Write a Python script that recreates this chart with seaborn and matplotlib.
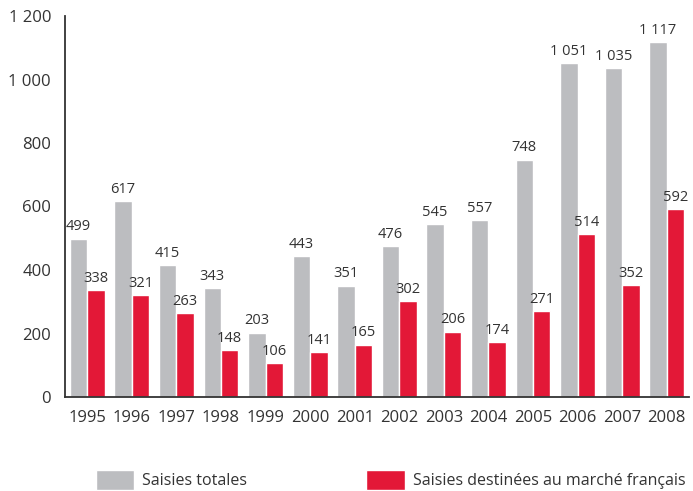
import matplotlib
matplotlib.use("Agg")
import matplotlib.pyplot as plt
import seaborn as sns
import pandas as pd
import numpy as np

years = ["1995", "1996", "1997", "1998", "1999", "2000", "2001",
         "2002", "2003", "2004", "2005", "2006", "2007", "2008"]
totales = [499, 617, 415, 343, 203, 443, 351, 476, 545, 557, 748, 1051, 1035, 1117]
francais = [338, 321, 263, 148, 106, 141, 165, 302, 206, 174, 271, 514, 352, 592]
series_names = ["Saisies totales", "Saisies destinées au marché français"]
colors = ["#BCBDC0", "#E31837"]
yticks = [0, 200, 400, 600, 800, 1000, 1200]

sns.set_theme(style="white")
plt.rcParams["font.family"] = ["Open Sans", "DejaVu Sans"]
text_color = "#333333"

df = pd.DataFrame({
    "year": years * 2,
    "value": totales + francais,
    "serie": [series_names[0]] * len(years) + [series_names[1]] * len(years),
})

fig = plt.figure(figsize=(6.93, 4.91), dpi=100)
ax = fig.add_axes([65 / 693, 1 - 397 / 491, (689 - 65) / 693, (397 - 16) / 491])

sns.barplot(data=df, x="year", y="value", hue="serie", palette=colors,
            width=0.78, gap=0.0, ax=ax, legend=True, saturation=1)

def fmt(v):
    return f"{int(v):,}".replace(",", " ")

for cont in ax.containers:
    for bar in cont:
        h = bar.get_height()
        ax.annotate(fmt(h), (bar.get_x() + bar.get_width() / 2, h),
                    xytext=(0, 3), textcoords="offset points",
                    ha="center", va="bottom", fontsize=10.5, color=text_color)

ax.set_ylim(0, 1200)
ax.set_xlim(-0.5, len(years) - 0.5)
ax.set_yticks(yticks)
ax.set_yticklabels([fmt(t) for t in yticks], fontsize=12, color=text_color)
ax.tick_params(axis="y", direction="in", length=15, width=1.3, color=text_color, pad=10)
ax.tick_params(axis="x", which="major", length=0, pad=9, labelsize=12, labelcolor=text_color)
ax.set_xticks(np.arange(len(years)) + 0.5, minor=True)
ax.tick_params(axis="x", which="minor", direction="in", length=9, width=1.3, color=text_color)
ax.set_xlabel("")
ax.set_ylabel("")
for s in ["top", "right"]:
    ax.spines[s].set_visible(False)
for s in ["left", "bottom"]:
    ax.spines[s].set_color(text_color)
    ax.spines[s].set_linewidth(1.3)

handles, labels = ax.get_legend_handles_labels()
ax.get_legend().remove()
fig.legend(handles, labels, loc="center left",
           bbox_to_anchor=(88 / 693, 1 - 480 / 491), ncol=2, frameon=False,
           fontsize=11.5, handlelength=2.4, handleheight=1.6, handletextpad=0.5,
           columnspacing=7.45, borderpad=0, labelcolor=text_color)

fig.savefig("out.png", dpi=100)
